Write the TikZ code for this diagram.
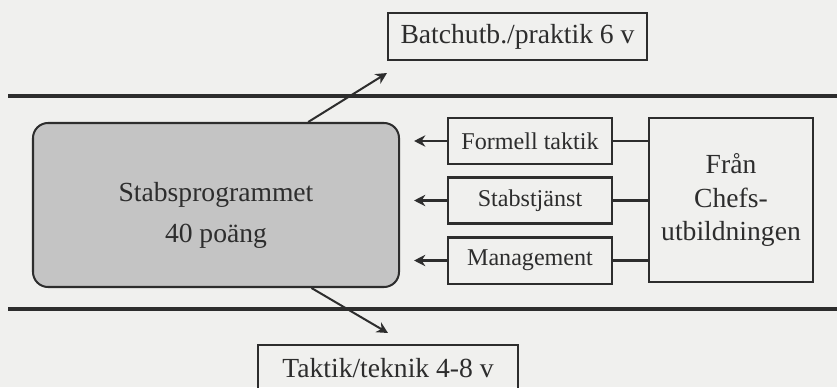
\documentclass[tikz,border=0pt]{standalone}
\usepackage{fontspec}
\setmainfont{Liberation Serif}
\usepackage{xcolor}
\usepackage{tikz}
\usetikzlibrary{positioning, arrows.meta}

\definecolor{paper}{RGB}{240,240,238}
\definecolor{ink}{RGB}{45,45,45}
\definecolor{progfill}{RGB}{196,196,196}

\begin{document}
\begin{tikzpicture}[
    box/.style={draw=ink, line width=0.8pt, minimum width=2.296cm, minimum height=0.644cm, inner sep=0pt, align=center, text=ink, font=\fontsize{11}{13.2}\selectfont},
    small/.style={box, font=\fontsize{9.6}{11.5}\selectfont},
    arr/.style={draw=ink, line width=0.8pt, -{Stealth[length=4.5pt, width=4.5pt]}},
    rail/.style={draw=ink, line width=1.2pt}
]
\clip (0,0) rectangle (11.718,-5.418);
\fill[paper] (0,0) rectangle (11.718,-5.418);

% the two rails
\draw[rail] (0.112,-1.344) -- (11.718,-1.344);
\draw[rail] (0.112,-4.326) -- (11.718,-4.326);

\node[box, fill=progfill, rounded corners=0.21cm, minimum width=5.124cm, minimum height=2.296cm] (prog) at (3.024, -2.87) {\rule{0pt}{16pt}Stabsprogrammet \\[3.2pt] 40 poäng};
\node[box, minimum width=3.626cm, minimum height=0.658cm] (batch) at (7.245, -0.511) {Batchutb./praktik 6 v};
\node[box, minimum width=3.64cm, minimum height=0.658cm] (taktik) at (5.432, -5.159) {Taktik/teknik 4-8 v};

\node[small] (formell) at (7.42, -1.974) {Formell taktik};
\node[small] (stab) at (7.42, -2.807) {Stabstjänst};
\node[small] (mgmt) at (7.42, -3.647) {Management};
\node[box, minimum height=2.296cm] (chef) at (10.234, -2.8) {Från \\ Chefs- \\ utbildningen};

\coordinate (upTip) at (5.418, -1.022);
\coordinate (downTip) at (5.432, -4.662);

\draw[arr] (prog.42.7) -- (upTip);
\draw[arr] (prog.-41.3) -- (downTip);

\draw[arr, shorten >=0.196cm] (formell) -- (formell -| prog.east);
\draw[arr, shorten >=0.196cm] (stab) -- (stab -| prog.east);
\draw[arr, shorten >=0.196cm] (mgmt) -- (mgmt -| prog.east);

\draw[draw=ink, line width=0.8pt] (formell) -- (formell -| chef.west);
\draw[draw=ink, line width=0.8pt] (stab) -- (stab -| chef.west);
\draw[draw=ink, line width=0.8pt] (mgmt) -- (mgmt -| chef.west);
\end{tikzpicture}
\end{document}
